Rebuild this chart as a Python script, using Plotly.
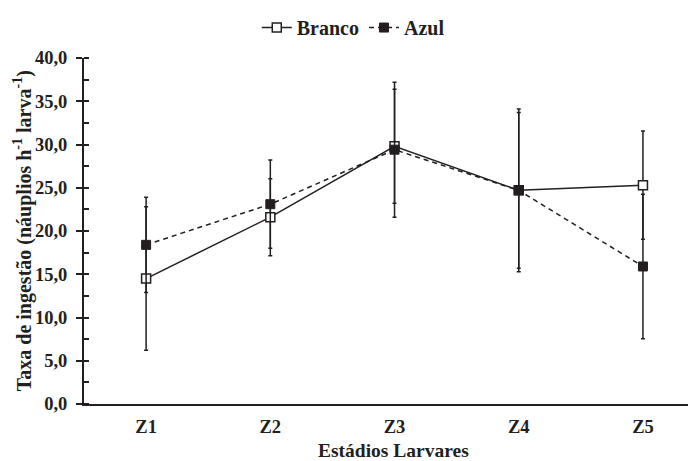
import plotly.graph_objects as go

estadios = ["Z1", "Z2", "Z3", "Z4", "Z5"]
branco = [14.5, 21.6, 29.8, 24.7, 25.3]
branco_sd = [8.3, 4.45, 6.6, 9.0, 6.25]
azul = [18.4, 23.1, 29.4, 24.7, 15.9]
azul_sd = [5.5, 5.1, 7.8, 9.4, 8.35]
y_ticks = [0, 5, 10, 15, 20, 25, 30, 35, 40]
y_tick_labels = ["0,0", "5,0", "10,0", "15,0", "20,0", "25,0", "30,0", "35,0", "40,0"]

INK = "#231f20"
FONT = "Liberation Serif"

fig = go.Figure()
fig.add_trace(go.Scatter(
    x=estadios, y=branco, name="<b>Branco</b>", mode="lines+markers",
    line=dict(color=INK, width=1.5, dash="solid"),
    marker=dict(symbol="square", size=9, color="white", line=dict(color=INK, width=1.5)),
    error_y=dict(type="data", array=branco_sd, visible=True, color=INK, thickness=1.5, width=2),
))
fig.add_trace(go.Scatter(
    x=estadios, y=azul, name="<b>Azul</b>", mode="lines+markers",
    line=dict(color=INK, width=1.5, dash="5px,4px"),
    marker=dict(symbol="square", size=9, color=INK, line=dict(color=INK, width=1)),
    error_y=dict(type="data", array=azul_sd, visible=True, color=INK, thickness=1.5, width=2),
))
# invisible trace carrying the overlay axis that draws the inside half of the crossing ticks
fig.add_trace(go.Scatter(x=estadios, y=azul, yaxis="y2", mode="markers",
                         marker=dict(opacity=0), showlegend=False, hoverinfo="skip"))

fig.update_layout(
    width=688, height=453,
    margin=dict(l=76, r=0, t=45, b=57),
    paper_bgcolor="white", plot_bgcolor="white",
    font=dict(family=FONT, size=18.5, color=INK),
    showlegend=True,
    legend=dict(orientation="h", x=0.44, y=1.088, xanchor="center", yanchor="middle",
                font=dict(family=FONT, size=20, color=INK), itemwidth=30,
                bgcolor="rgba(0,0,0,0)", traceorder="normal"),
    xaxis=dict(
        type="category", range=[-0.5, 4.427], showgrid=False, zeroline=False, automargin=False,
        showline=True, linecolor=INK, linewidth=2, ticks="", ticklabelstandoff=5,
        tickfont=dict(family=FONT, size=18.5, color=INK),
        tickvals=estadios, ticktext=["<b>%s</b>" % e for e in estadios],
    ),
    yaxis=dict(
        range=[0, 40], showgrid=False, zeroline=False, automargin=False,
        showline=True, linecolor=INK, linewidth=2,
        ticks="outside", ticklen=6, tickwidth=2, tickcolor=INK, ticklabelstandoff=5,
        tickvals=y_ticks, ticktext=["<b>%s</b>" % t for t in y_tick_labels],
        tickfont=dict(family=FONT, size=18.5, color=INK),
        minor=dict(ticks="inside", dtick=2.5, ticklen=5, tickwidth=1.5, tickcolor=INK),
    ),
    yaxis2=dict(
        overlaying="y", side="left", anchor="x", range=[0, 40], showgrid=False, automargin=False,
        zeroline=False, showline=False, ticks="inside", ticklen=5, tickwidth=2,
        tickcolor=INK, tickvals=y_ticks, showticklabels=False,
    ),
    annotations=[
        dict(text="<b>Taxa de ingestão (náuplios h<sup>-1</sup> larva<sup>-1</sup>)</b>",
             xref="paper", yref="paper", x=-0.101, y=0.5, xanchor="center", yanchor="middle",
             textangle=-90, showarrow=False, font=dict(family=FONT, size=20, color=INK)),
        dict(text="<b>Estádios Larvares</b>",
             xref="paper", yref="paper", x=0.505, y=-0.135, xanchor="center", yanchor="middle",
             showarrow=False, font=dict(family=FONT, size=19.5, color=INK)),
    ],
)

fig.write_html("out.html")
